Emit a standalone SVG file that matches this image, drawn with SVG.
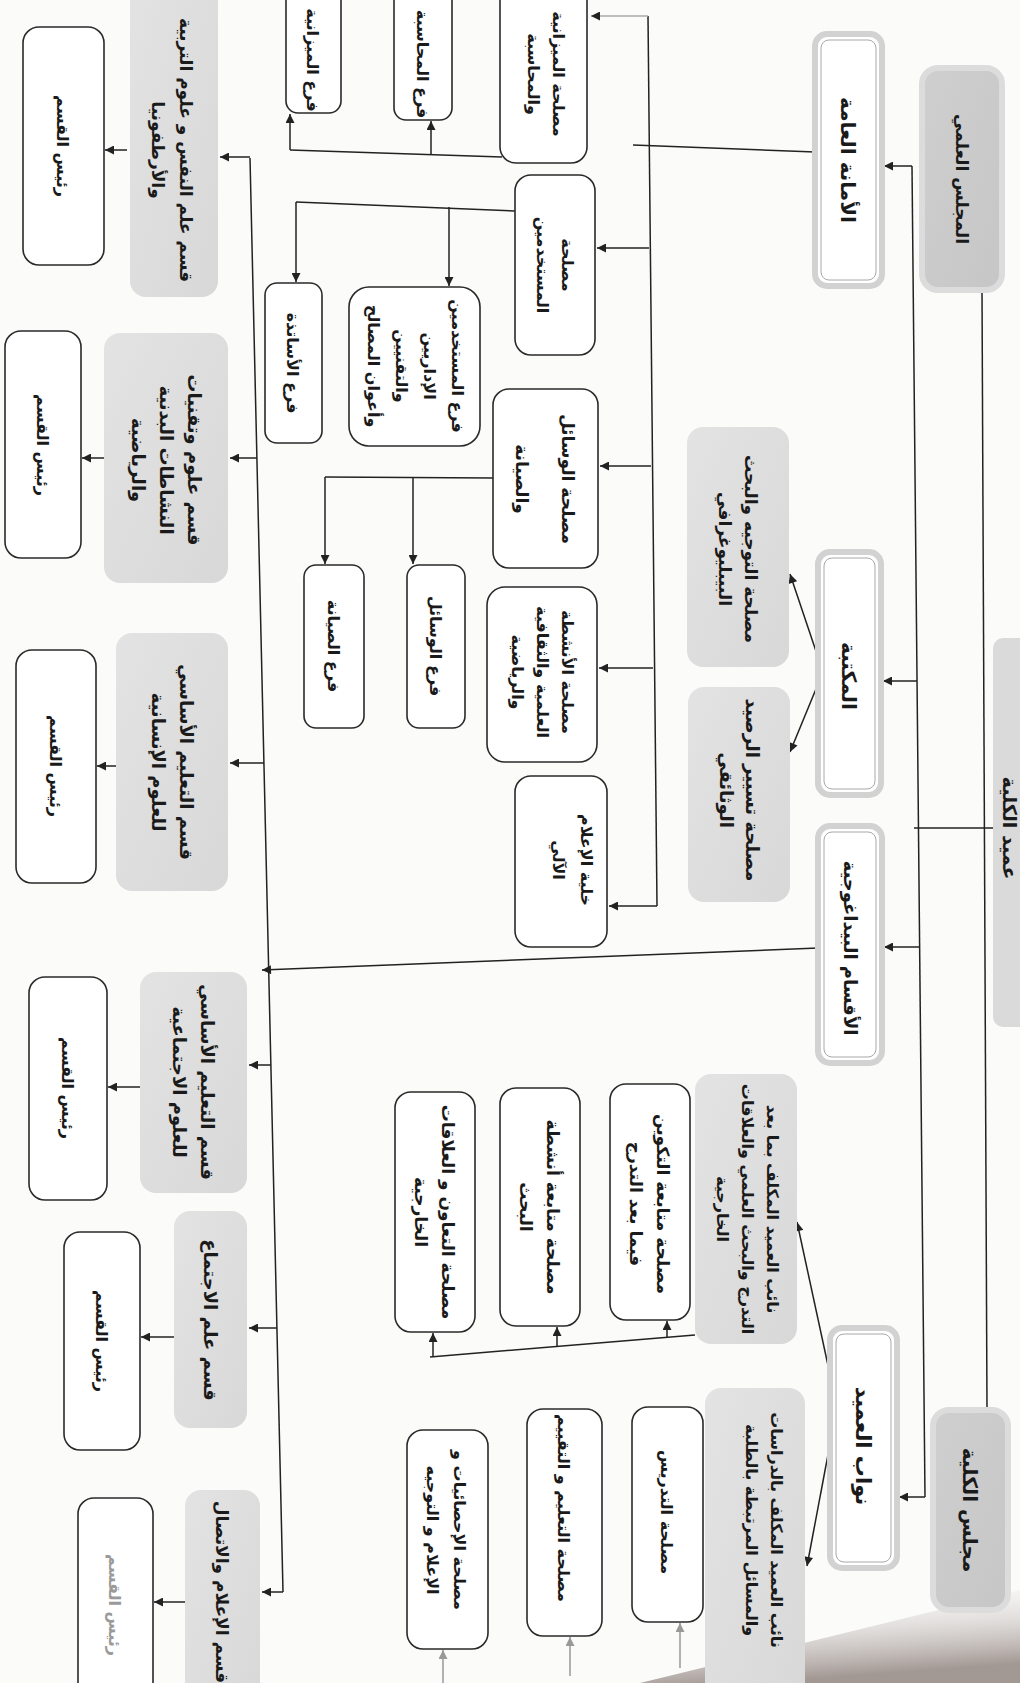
<svg xmlns="http://www.w3.org/2000/svg" width="1020" height="1683" viewBox="0 0 1020 1683">
<defs>
<linearGradient id="gg" x1="0" y1="0" x2="1" y2="1"><stop offset="0" stop-color="#e4e3e3"/><stop offset="1" stop-color="#d9d8d8"/></linearGradient>
<linearGradient id="gd" x1="0" y1="0" x2="1" y2="1"><stop offset="0" stop-color="#cfcfcf"/><stop offset="1" stop-color="#c6c6c6"/></linearGradient>
<linearGradient id="curl" x1="0" y1="0" x2="0.3" y2="1"><stop offset="0" stop-color="#ffffff" stop-opacity="0"/><stop offset="1" stop-color="#8c7f7a" stop-opacity="0.8"/></linearGradient>
<marker id="ah" viewBox="0 0 10 10" refX="10" refY="5" markerWidth="11" markerHeight="9" markerUnits="userSpaceOnUse" orient="auto"><path d="M0,0 L10,5 L0,10 z" fill="#222"/></marker>
<marker id="ahg" viewBox="0 0 10 10" refX="10" refY="5" markerWidth="11" markerHeight="9" markerUnits="userSpaceOnUse" orient="auto"><path d="M0,0 L10,5 L0,10 z" fill="#999"/></marker>
<style>
.w{fill:#fff;stroke:#2a2a2a;stroke-width:1.6}
.g{fill:url(#gg);stroke:none}
.d{fill:#fff;stroke:#d2d2d2;stroke-width:6}
.di{fill:none;stroke:#a8a8a8;stroke-width:1}
.k{fill:url(#gd);stroke:#dcdcdc;stroke-width:6}
.t{font-family:"DejaVu Sans",sans-serif;font-weight:bold;font-size:18px;fill:#1a1a1a;text-anchor:middle}
.s{font-size:16px}
.r{font-size:16px}
.f{fill:#9a9a9a}
.c{stroke:#222;stroke-width:1.5;fill:none}
.a{marker-end:url(#ah)}
.cg{stroke:#999;stroke-width:1.5;fill:none;marker-end:url(#ahg)}
</style>
</defs>
<rect width="1020" height="1683" fill="#fbfbfa"/>
<path d="M640,1683 L1020,1590 L1020,1683 Z" fill="url(#curl)"/>

<g id="connectors">
<path class="c" d="M982,290 L987,1410"/>
<path class="c" d="M912,166 L925,1497"/>
<path class="c" d="M993,828 H914"/>
<path class="c a" d="M912,166 H884"/>
<path class="c a" d="M917,681 H883"/>
<path class="c a" d="M919,947 H884"/>
<path class="c a" d="M925,1497 H899"/>
<path class="c a" d="M823,672 L790,574"/>
<path class="c a" d="M823,672 L790,752"/>
<path class="c a" d="M837,1407 L797,1222"/>
<path class="c a" d="M837,1407 L807,1566"/>
<path class="c" d="M815,152 L633,145"/>
<path class="c" d="M648,16 L657,906"/>
<path class="c a" d="M648,16 H591" style="stroke:#aaa"/>
<path class="c a" d="M649,248 H597"/>
<path class="c a" d="M651,466 H600"/>
<path class="c a" d="M653,668 H599"/>
<path class="c a" d="M657,906 H609"/>
<path class="c" d="M502,157 L290,150"/>
<path class="c a" d="M431,154 V121"/>
<path class="c a" d="M290,150 V114"/>
<path class="c" d="M515,211 L296,202"/>
<path class="c a" d="M449,207 V286"/>
<path class="c a" d="M296,202 V282"/>
<path class="c" d="M493,478 L325,477"/>
<path class="c a" d="M413,478 V564"/>
<path class="c a" d="M325,477 V564"/>
<path class="c" d="M695,1335 L430,1357"/>
<path class="c a" d="M667,1337 V1321"/>
<path class="c a" d="M557,1346 V1327"/>
<path class="c a" d="M433,1357 V1333"/>
<path class="cg" d="M680,1668 V1623"/>
<path class="cg" d="M570,1676 V1637"/>
<path class="cg" d="M443,1683 V1650"/>
<path class="c" d="M250,158 L283,1592"/>
<path class="c a" d="M818,948 L262,970"/>
<path class="c a" d="M250,157 H220"/>
<path class="c a" d="M257,458 H230"/>
<path class="c a" d="M264,763 H230"/>
<path class="c a" d="M271,1065 H249"/>
<path class="c a" d="M277,1328 H249"/>
<path class="c a" d="M283,1592 H262"/>
<path class="c a" d="M127,150 H105"/>
<path class="c a" d="M104,458 H82"/>
<path class="c a" d="M116,766 H97"/>
<path class="c a" d="M140,1087 H108"/>
<path class="c a" d="M174,1337 H141"/>
<path class="c a" d="M185,1602 H154"/>
</g>

<g id="n_majlis_ilmi"><rect class="k" x="922" y="68" width="80" height="222" rx="16"/><text class="t" style="font-size:17px" transform="translate(962,179) rotate(90)"><tspan x="0" dy="6">المجلس العلمي</tspan></text></g>
<g id="n_dean"><rect x="993" y="638" width="60" height="389" rx="10" fill="#dadada"/><text class="t" style="font-size:19px" transform="translate(1003,828) rotate(90)">عميد الكلية</text></g>
<g id="n_majlis_kulliya"><rect class="k" x="933" y="1410" width="75" height="200" rx="16"/><text class="t" style="font-size:20px" transform="translate(970,1510) rotate(90)"><tspan x="0" dy="7">مجلس الكلية</tspan></text></g>

<g id="n_amana"><rect class="d" x="815" y="34" width="67" height="252" rx="12"/><rect class="di" x="821" y="40" width="55" height="240" rx="8"/><text class="t" style="font-size:20px" transform="translate(848,160) rotate(90)"><tspan x="0" dy="7">الأمانة العامة</tspan></text></g>
<g id="n_maktaba"><rect class="d" x="818" y="552" width="63" height="243" rx="12"/><rect class="di" x="824" y="558" width="51" height="231" rx="8"/><text class="t" style="font-size:20px" transform="translate(849,676) rotate(90)"><tspan x="0" dy="7">المكتبة</tspan></text></g>
<g id="n_aqsam"><rect class="d" x="818" y="826" width="64" height="237" rx="12"/><rect class="di" x="824" y="832" width="52" height="225" rx="8"/><text class="t" transform="translate(850,948) rotate(90)"><tspan x="0" dy="6">الأقسام البيداغوجية</tspan></text></g>
<g id="n_nuwwab"><rect class="d" x="830" y="1328" width="67" height="240" rx="12"/><rect class="di" x="836" y="1334" width="55" height="228" rx="8"/><text class="t" style="font-size:21px" transform="translate(863,1446) rotate(90)"><tspan x="0" dy="7">نواب العميد</tspan></text></g>

<g id="g_tawjih"><rect class="g" x="687" y="427" width="102" height="240" rx="16"/><text class="t" style="font-size:17px" transform="translate(738,549) rotate(90)"><tspan x="0" dy="-7">مصلحة التوجيه والبحث</tspan><tspan x="0" dy="26">البيبليوغرافي</tspan></text></g>
<g id="g_rasid"><rect class="g" x="688" y="687" width="102" height="215" rx="16"/><text class="t" transform="translate(739,790) rotate(90)"><tspan x="0" dy="-7">مصلحة تسيير الرصيد</tspan><tspan x="0" dy="26">الوثائقي</tspan></text></g>
<g id="g_dep1"><rect class="g" x="695" y="1074" width="102" height="270" rx="16"/><text class="t s" transform="translate(748,1209) rotate(90)"><tspan x="0" dy="-19">نائب العميد المكلف بما بعد</tspan><tspan x="0" dy="25">التدرج والبحث العلمي والعلاقات</tspan><tspan x="0" dy="25">الخارجية</tspan></text></g>
<g id="g_dep2"><rect class="g" x="705" y="1388" width="100" height="320" rx="16"/><text class="t s" transform="translate(764,1530) rotate(90)"><tspan x="0" dy="-7">نائب العميد المكلف بالدراسات</tspan><tspan x="0" dy="25">والمسائل المرتبطة بالطلبة</tspan></text></g>

<g id="s_mizaniya"><rect class="w" x="500" y="-40" width="87" height="203" rx="16"/><text class="t s" transform="translate(546,74) rotate(90)"><tspan x="0" dy="-7">مصلحة الميزانية</tspan><tspan x="0" dy="25">والمحاسبة</tspan></text></g>
<g id="f_mizaniya"><rect class="w" x="286" y="-70" width="55" height="183" rx="12"/><text class="t s" transform="translate(313,60) rotate(90)"><tspan x="0" dy="6">فرع الميزانية</tspan></text></g>
<g id="f_muhasaba"><rect class="w" x="394" y="-70" width="58" height="190" rx="12"/><text class="t s" transform="translate(423,64) rotate(90)"><tspan x="0" dy="6">فرع المحاسبة</tspan></text></g>
<g id="s_mustakhdimin"><rect class="w" x="515" y="175" width="80" height="180" rx="16"/><text class="t s" transform="translate(555,265) rotate(90)"><tspan x="0" dy="-7">مصلحة</tspan><tspan x="0" dy="25">المستخدمين</tspan></text></g>
<g id="f_mustakhdimin"><rect class="w" x="349" y="287" width="131" height="159" rx="20"/><text class="t s" transform="translate(415,366) rotate(90)"><tspan x="0" dy="-37">فرع المستخدمين</tspan><tspan x="0" dy="28">الإداريين</tspan><tspan x="0" dy="28">والتقنيين</tspan><tspan x="0" dy="28">وأعوان المصالح</tspan></text></g>
<g id="f_asatidha"><rect class="w" x="265" y="283" width="57" height="160" rx="12"/><text class="t s" transform="translate(293,363) rotate(90)"><tspan x="0" dy="6">فرع الأساتذة</tspan></text></g>
<g id="s_wasail"><rect class="w" x="493" y="389" width="105" height="179" rx="16"/><text class="t" style="font-size:17px" transform="translate(545,479) rotate(90)"><tspan x="0" dy="-17">مصلحة الوسائل</tspan><tspan x="0" dy="46">والصيانة</tspan></text></g>
<g id="f_wasail"><rect class="w" x="407" y="565" width="58" height="163" rx="12"/><text class="t s" transform="translate(436,646) rotate(90)"><tspan x="0" dy="6">فرع الوسائل</tspan></text></g>
<g id="f_siyana"><rect class="w" x="304" y="565" width="60" height="163" rx="12"/><text class="t s" transform="translate(334,646) rotate(90)"><tspan x="0" dy="6">فرع الصيانة</tspan></text></g>
<g id="s_anshita"><rect class="w" x="487" y="587" width="110" height="175" rx="18"/><text class="t s" transform="translate(543,672) rotate(90)"><tspan x="0" dy="-19">مصلحة الأنشطة</tspan><tspan x="0" dy="25">العلمية والثقافية</tspan><tspan x="0" dy="25">والرياضية</tspan></text></g>
<g id="s_khaliya"><rect class="w" x="515" y="776" width="92" height="171" rx="16"/><text class="t s" transform="translate(574,860) rotate(90)"><tspan x="0" dy="-7">خلية الإعلام</tspan><tspan x="0" dy="28">الآلي</tspan></text></g>

<g id="s_takwin"><rect class="w" x="610" y="1084" width="80" height="236" rx="16"/><text class="t" style="font-size:17px" transform="translate(650,1204) rotate(90)"><tspan x="0" dy="-7">مصلحة متابعة التكوين</tspan><tspan x="0" dy="27">فيما بعد التدرج</tspan></text></g>
<g id="s_bahth"><rect class="w" x="500" y="1088" width="80" height="238" rx="16"/><text class="t" style="font-size:17px" transform="translate(540,1207) rotate(90)"><tspan x="0" dy="-7">مصلحة متابعة أنشطة</tspan><tspan x="0" dy="27">البحث</tspan></text></g>
<g id="s_taawun"><rect class="w" x="395" y="1092" width="80" height="240" rx="16"/><text class="t" style="font-size:17px" transform="translate(435,1212) rotate(90)"><tspan x="0" dy="-7">مصلحة التعاون و العلاقات</tspan><tspan x="0" dy="27">الخارجية</tspan></text></g>
<g id="s_tadris"><rect class="w" x="632" y="1407" width="71" height="215" rx="16"/><text class="t s" transform="translate(667,1512) rotate(90)"><tspan x="0" dy="6">مصلحة التدريس</tspan></text></g>
<g id="s_taalim"><rect class="w" x="527" y="1409" width="75" height="227" rx="16"/><text class="t s" transform="translate(564,1508) rotate(90)"><tspan x="0" dy="6">مصلحة التعليم و التقييم</tspan></text></g>
<g id="s_ihsaiyat"><rect class="w" x="407" y="1430" width="81" height="219" rx="16"/><text class="t s" transform="translate(447,1530) rotate(90)"><tspan x="0" dy="-7">مصلحة الإحصائيات و</tspan><tspan x="0" dy="27">الإعلام و التوجيه</tspan></text></g>

<g id="sec1"><rect class="g" x="130" y="-30" width="88" height="327" rx="16"/><text class="t" style="font-size:17px" transform="translate(172,150) rotate(90)"><tspan x="0" dy="-8">قسم علم النفس و علوم التربية</tspan><tspan x="0" dy="28">والأرطفونيا</tspan></text></g>
<g id="r1"><rect class="w" x="23" y="27" width="81" height="238" rx="16"/><text class="t r" transform="translate(63,146) rotate(90)"><tspan x="0" dy="6">رئيس القسم</tspan></text></g>
<g id="sec2"><rect class="g" x="104" y="333" width="124" height="250" rx="16"/><text class="t" transform="translate(166,460) rotate(90)"><tspan x="0" dy="-22">قسم علوم وتقنيات</tspan><tspan x="0" dy="28">النشاطات البدنية</tspan><tspan x="0" dy="28">والرياضية</tspan></text></g>
<g id="r2"><rect class="w" x="5" y="331" width="76" height="227" rx="16"/><text class="t r" transform="translate(43,445) rotate(90)"><tspan x="0" dy="6">رئيس القسم</tspan></text></g>
<g id="sec3"><rect class="g" x="116" y="633" width="112" height="258" rx="16"/><text class="t" transform="translate(172,762) rotate(90)"><tspan x="0" dy="-8">قسم التعليم الأساسي</tspan><tspan x="0" dy="28">للعلوم الإنسانية</tspan></text></g>
<g id="r3"><rect class="w" x="16" y="650" width="80" height="233" rx="16"/><text class="t r" transform="translate(56,766) rotate(90)"><tspan x="0" dy="6">رئيس القسم</tspan></text></g>
<g id="sec4"><rect class="g" x="140" y="972" width="107" height="221" rx="16"/><text class="t" transform="translate(193,1082) rotate(90)"><tspan x="0" dy="-8">قسم التعليم الأساسي</tspan><tspan x="0" dy="28">للعلوم الاجتماعية</tspan></text></g>
<g id="r4"><rect class="w" x="29" y="977" width="78" height="223" rx="16"/><text class="t r" transform="translate(68,1088) rotate(90)"><tspan x="0" dy="6">رئيس القسم</tspan></text></g>
<g id="sec5"><rect class="g" x="174" y="1211" width="73" height="217" rx="16"/><text class="t" transform="translate(210,1320) rotate(90)"><tspan x="0" dy="6">قسم علم الاجتماع</tspan></text></g>
<g id="r5"><rect class="w" x="64" y="1232" width="76" height="218" rx="16"/><text class="t r" transform="translate(102,1341) rotate(90)"><tspan x="0" dy="6">رئيس القسم</tspan></text></g>
<g id="sec6"><rect class="g" x="185" y="1490" width="75" height="230" rx="16"/><text class="t" style="font-size:17px" transform="translate(222,1592) rotate(90)"><tspan x="0" dy="6">قسم الإعلام والاتصال</tspan></text></g>
<g id="r6"><rect class="w" x="78" y="1498" width="75" height="220" rx="16"/><text class="t r f" transform="translate(115,1605) rotate(90)"><tspan x="0" dy="6">رئيس القسم</tspan></text></g>
</svg>
